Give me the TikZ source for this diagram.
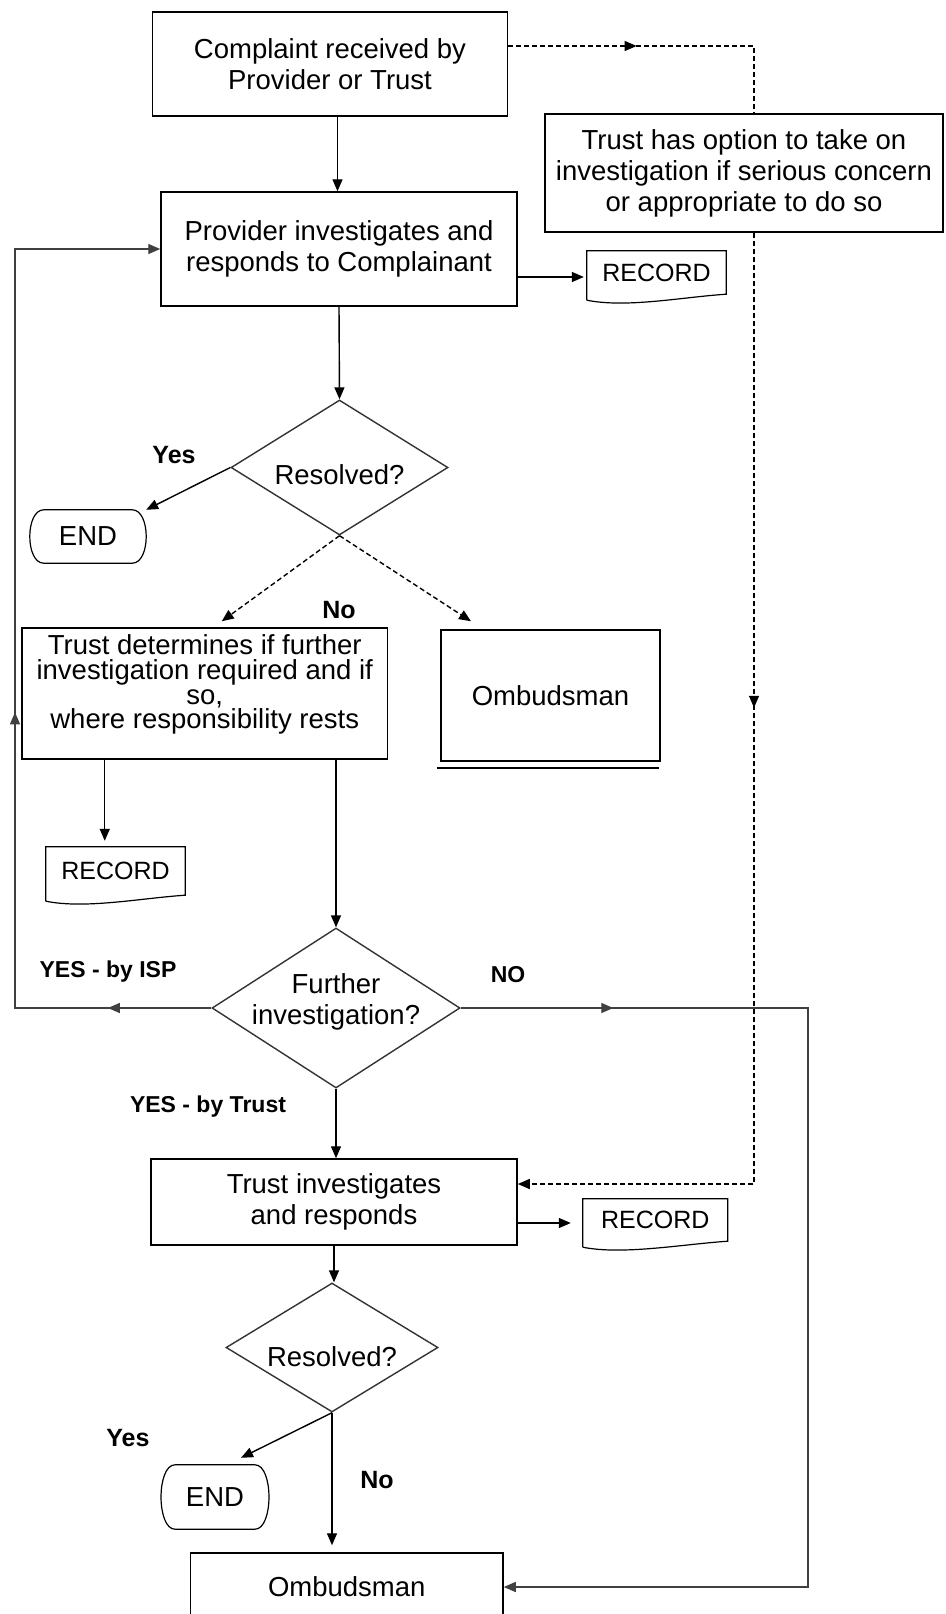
\documentclass[tikz,border=0pt]{standalone}
\usepackage{fontspec}
\setmainfont{Liberation Sans}
\usetikzlibrary{arrows.meta,shapes.geometric,decorations.markings}
\newcommand\recoutline[1]{\draw[line width=1.2pt] ([yshift=-6pt]#1.south west) -- (#1.north west) -- (#1.north east) -- (#1.south east) .. controls +(-45,3) and +(40,8) .. ([yshift=-6pt]#1.south west);}
\newcommand\termoutline[1]{\draw[line width=1.2pt] ([xshift=14pt]#1.north west) -- ([xshift=-14pt]#1.north east) .. controls ([xshift=4.7pt]#1.north east) and ([xshift=4.7pt]#1.south east) .. ([xshift=-14pt]#1.south east) -- ([xshift=14pt]#1.south west) .. controls ([xshift=-4.7pt]#1.south west) and ([xshift=-4.7pt]#1.north west) .. cycle;}
\begin{document}
\begin{tikzpicture}[x=1pt,y=-1pt,
  box/.style={draw, line width=1.5pt, inner sep=0pt, align=center, font=\fontsize{27.5}{31}\selectfont},
  txt/.style={align=center, font=\fontsize{27.5}{31}\selectfont},
  dia/.style={diamond, draw=black!80, line width=1.4pt, inner sep=0pt},
  rec/.style={inner sep=0pt, font=\fontsize{25}{28}\selectfont},
  term/.style={inner sep=0pt, font=\fontsize{27.5}{31}\selectfont},
  lbl/.style={font=\bfseries\fontsize{25}{28}\selectfont},
  slbl/.style={font=\bfseries\fontsize{23}{26}\selectfont},
  tip/.style={-{Triangle[length=12pt,width=10pt]}},
  ln/.style={line width=1.4pt},
  arr/.style={line width=1.4pt, tip},
  dsh/.style={line width=1.4pt, dash pattern=on 5pt off 3pt},
  midarr/.style={postaction={decorate}, decoration={markings, mark=at position #1 with {\arrow{Triangle[length=12pt,width=10pt]}}}},
  midarrtwo/.style 2 args={postaction={decorate}, decoration={markings, mark=at position #1 with {\arrow{Triangle[length=12pt,width=10pt]}}, mark=at position #2 with {\arrow{Triangle[length=12pt,width=10pt]}}}},
]
\fill[white] (0,0) rectangle (945,1614);
\useasboundingbox (0,0) rectangle (945,1614);

% boxes
\node[box, minimum width=355pt, minimum height=104pt] (c1) at (330,64) {Complaint received by\\Provider or Trust};
\node[box, minimum width=356pt, minimum height=114pt] (pinv) at (339,249) {Provider investigates and\\responds to Complainant};
\node[box, minimum width=398pt, minimum height=118pt] (opt) at (744,173) {Trust has option to take on\\investigation if serious concern\\or appropriate to do so};
\node[rec, minimum width=139pt, minimum height=43pt] (rec1) at (656.5,272.5) {RECORD};
\recoutline{rec1}

\node[dia, minimum width=217pt, minimum height=135pt, label={[txt,yshift=-7pt]center:Resolved?}] (d1) at (339.5,467.5) {};
\node[term, minimum width=116pt, minimum height=53pt] (end1) at (88,536.5) {END};
\termoutline{end1}

\node[box, minimum width=365.5pt, minimum height=131pt, label={[txt,font=\fontsize{27.5}{24.8}\selectfont,yshift=9pt]center:Trust determines if further\\investigation required and if\\so,\\where responsibility rests}] (tdet) at (204.75,693.5) {};
\node[box, minimum width=219pt, minimum height=131pt] (omb1) at (550.5,695.5) {Ombudsman};
\draw[line width=1.5pt] ([xshift=-3.5pt,yshift=-6pt]omb1.south west) -- ([xshift=-1.5pt,yshift=-6pt]omb1.south east);

\node[rec, minimum width=139pt, minimum height=48pt] (rec2) at (115.5,871) {RECORD};
\recoutline{rec2}

\node[dia, minimum width=248pt, minimum height=160pt, label={[txt,yshift=6pt]center:Further\\investigation?}] (d2) at (336,1008) {};

\node[box, minimum width=366pt, minimum height=86pt] (tinv) at (334,1202) {Trust investigates\\and responds};
\node[rec, minimum width=144.5pt, minimum height=42pt] (rec3) at (655.25,1220) {RECORD};
\recoutline{rec3}

\node[dia, minimum width=212pt, minimum height=129pt, label={[txt,yshift=-9pt]center:Resolved?}] (d3) at (332,1347.5) {};
\node[term, minimum width=107.5pt, minimum height=64pt] (end2) at (215,1497) {END};
\termoutline{end2}
\node[box, minimum width=312.5pt, minimum height=68pt] (omb2) at (346.75,1587) {Ombudsman};

% helper coordinates
\coordinate (lx) at (15,0);
\coordinate (rx) at (808,0);
\coordinate (dx) at (754,0);
\coordinate (c1out) at ([yshift=18pt]c1.east);
\coordinate (tin) at ([yshift=18pt]tinv.east);
\coordinate (t1) at ([xshift=17pt,yshift=6pt]tdet.north);
\coordinate (t2) at ([xshift=-79.5pt,yshift=8pt]omb1.north);
\coordinate (pout) at ([yshift=-28pt]pinv.east);
\coordinate (tout) at ([yshift=-21pt]tinv.east);
\coordinate (tdl) at ([xshift=-100pt]tdet.south);

% connectors
\draw[arr] ([xshift=7.5pt]c1.south) -- ([xshift=7.5pt]c1.south |- pinv.north);
\draw[arr, shorten >=3pt] (pout) -- (pout -| rec1.west);
\draw[arr] (pinv.south) -- (d1.north);
\draw[arr] (d1.west) -- (end1.north east);
\draw[dsh, tip] (d1.south) -- (t1);
\draw[dsh, tip] (d1.south) -- (t2);
\draw[arr, shorten >=6pt] (tdl) -- (tdl |- rec2.north);
\draw[arr] (tdet.south -| d2.north) -- (d2.north);
\draw[arr] (d2.south) -- (d2.south |- tinv.north);
\draw[arr, shorten >=12pt] (tout) -- (tout -| rec3.west);
\draw[arr] (tinv.south) -- (tinv.south |- d3.north);
\draw[arr] (d3.south) -- ([xshift=26pt,yshift=7pt]end2.north);
\draw[arr, shorten >=7pt] (d3.south) -- (d3.south |- omb2.north);

% loop back to provider
\draw[ln, draw=black!75, tip, midarrtwo={0.094}{0.447}] (d2.west) -- (d2.west -| lx) -- (lx |- pinv.west) -- (pinv.west);
% NO to ombudsman
\draw[ln, draw=black!75, tip, midarr=0.124] (d2.east) -- (d2.east -| rx) -- (rx |- omb2.east) -- (omb2.east);
% dashed trust option path
\draw[dsh, midarr=0.41] (c1out) -- (c1out -| dx) -- (dx |- opt.north);
\draw[dsh, tip, midarr=0.40] (dx |- opt.south) -- (dx |- tin) -- (tin);

% labels
\node[lbl] (y1) at (174,455) {Yes};
\node[lbl] (n1) at (339,610) {No};
\node[slbl] (isp) at (108,972) {YES - by ISP};
\node[slbl] (no2) at (508,975) {NO};
\node[slbl] (ytr) at (208,1107) {YES - by Trust};
\node[lbl] (y3) at (128,1438) {Yes};
\node[lbl] (n3) at (377,1480) {No};
\end{tikzpicture}
\end{document}
